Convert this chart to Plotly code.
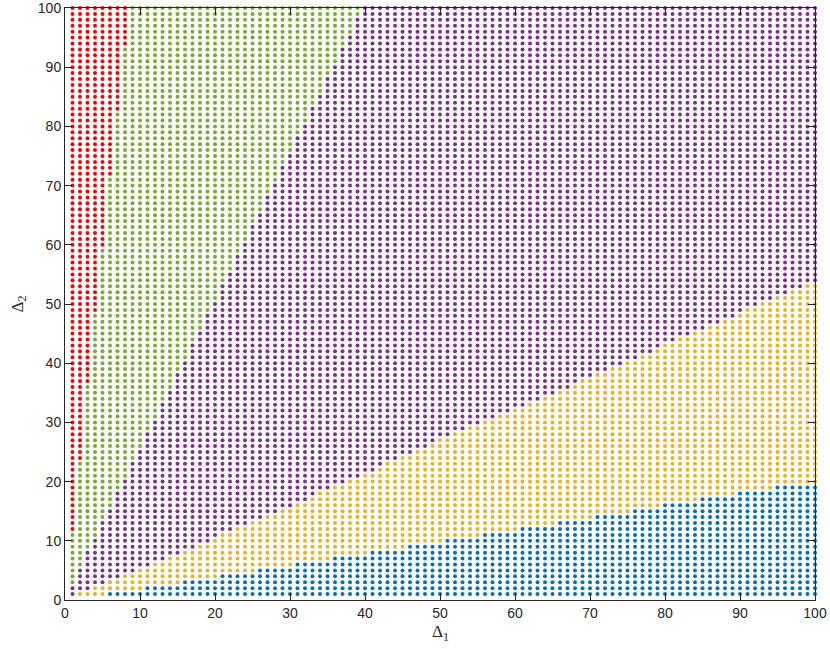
import plotly.graph_objects as go

# Grid of Δ1 (x) and Δ2 (y) values
delta1_values = list(range(1, 101))
delta2_values = list(range(1, 101))

# For each Δ2 row (1..19): first Δ1 column that is blue
blue_row_start = [6, 11, 16, 21, 26, 31, 36, 41, 46, 51,
                  56, 61, 66, 71, 76, 80, 85, 90, 95]
# For each Δ2 row (1..53): first Δ1 column that is yellow
yellow_row_start = [2, 4, 6, 8, 10, 12, 14, 16, 18, 20,
                    21, 23, 25, 27, 29, 31, 33, 34, 36, 38,
                    40, 42, 43, 45, 47, 49, 50, 52, 54, 56,
                    58, 60, 62, 64, 66, 68, 69, 71, 73, 75,
                    77, 79, 80, 82, 84, 86, 88, 90, 91, 93,
                    95, 97, 99]
# For each Δ2 row (1..100): first Δ1 column that is purple
purple_row_start = [1, 1, 2, 2, 2, 3, 3, 3, 4, 4,
                    5, 5, 5, 6, 6, 7, 7, 7, 8, 8,
                    9, 9, 9, 10, 10, 11, 11, 11, 12, 12,
                    13, 13, 13, 14, 14, 15, 15, 15, 16, 16,
                    17, 17, 17, 18, 18, 19, 19, 19, 20, 20,
                    21, 21, 21, 22, 22, 23, 23, 23, 24, 24,
                    25, 25, 25, 26, 26, 27, 27, 27, 28, 28,
                    29, 29, 29, 30, 30, 31, 31, 31, 32, 32,
                    33, 33, 33, 34, 34, 35, 35, 35, 36, 36,
                    37, 37, 37, 38, 38, 39, 39, 39, 40, 40]
# For each Δ1 column (1..8): lowest Δ2 row that is red
red_col_start = [12, 24, 37, 49, 60, 72, 83, 94]

region_names = ["blue", "yellow", "purple", "green", "red"]
region_colors = {"blue": "#0072BD", "yellow": "#EDB120", "purple": "#7E2F8E",
                 "green": "#77AC30", "red": "#FF0000"}

pts = {n: ([], []) for n in region_names}
for y in delta2_values:
    for x in delta1_values:
        if y <= len(blue_row_start) and x >= blue_row_start[y - 1]:
            r = "blue"
        elif y <= len(yellow_row_start) and x >= yellow_row_start[y - 1]:
            r = "yellow"
        elif x >= purple_row_start[y - 1]:
            r = "purple"
        elif x <= len(red_col_start) and y >= red_col_start[x - 1]:
            r = "red"
        else:
            r = "green"
        pts[r][0].append(x)
        pts[r][1].append(y)

fig = go.Figure()
for n in ["purple", "green", "red", "yellow", "blue"]:
    fig.add_trace(go.Scatter(x=pts[n][0], y=pts[n][1], mode="markers",
                             marker=dict(color=region_colors[n], size=4, line=dict(width=0)),
                             cliponaxis=False, showlegend=False, hoverinfo="skip"))

axis_common = dict(range=[0, 100], tickmode="array", tickvals=list(range(0, 101, 10)),
                   ticks="inside", ticklen=7, tickwidth=1, tickcolor="#262626",
                   showline=True, linecolor="#262626", linewidth=1, mirror="ticks",
                   showgrid=False, zeroline=False, automargin=False,
                   ticklabeloverflow="allow",
                   tickfont=dict(family="Liberation Sans, Arial, sans-serif", size=14, color="#262626"))
fig.update_xaxes(**axis_common)
fig.update_yaxes(**axis_common)

fig.update_layout(
    width=830, height=649,
    margin=dict(l=65, r=15, t=8, b=49),
    plot_bgcolor="white", paper_bgcolor="white",
    annotations=[
        dict(text="Δ<sub>1</sub>", xref="paper", yref="paper", x=0.5, y=-0.056,
             xanchor="center", yanchor="middle", showarrow=False,
             font=dict(family="Liberation Serif, Times New Roman, serif", size=17, color="#262626")),
        dict(text="Δ<sub>2</sub>", xref="paper", yref="paper", x=-0.062, y=0.5,
             xanchor="center", yanchor="middle", showarrow=False, textangle=-90,
             font=dict(family="Liberation Serif, Times New Roman, serif", size=17, color="#262626")),
    ],
)

fig.write_html("out.html", config={"displayModeBar": False, "staticPlot": True},
               post_script="document.body.style.margin='0';document.body.style.overflow='hidden';")
